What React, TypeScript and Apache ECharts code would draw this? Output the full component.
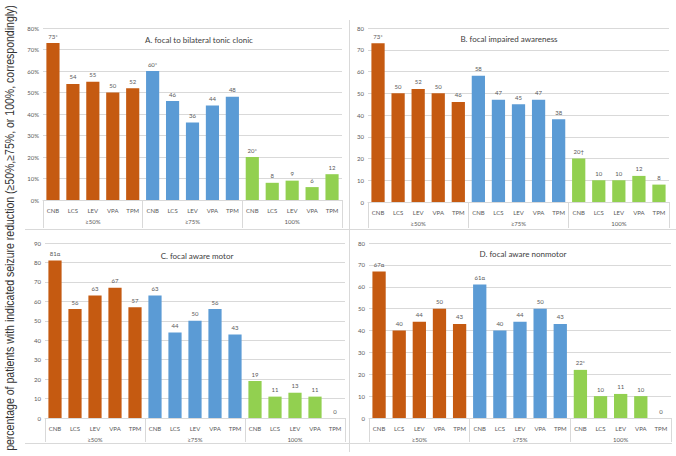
import { useEffect, useRef } from "react"
import * as echarts from "echarts"

const categories = ["CNB", "LCS", "LEV", "VPA", "TPM"]
const groups = ["≥50%", "≥75%", "100%"]
const groupColors = ["#C55A11", "#5B9BD5", "#92D050"]

// values per panel: ≥50%, ≥75%, 100% (5 drugs each)
const panelA = [73, 54, 55, 50, 52, 60, 46, 36, 44, 48, 20, 8, 9, 6, 12]
const panelB = [73, 50, 52, 50, 46, 58, 47, 45, 47, 38, 20, 10, 10, 12, 8]
const panelC = [81, 56, 63, 67, 57, 63, 44, 50, 56, 43, 19, 11, 13, 11, 0]
const panelD = [67, 40, 44, 50, 43, 61, 40, 44, 50, 43, 22, 10, 11, 10, 0]

// significance marks appended to value labels
const marksA = ["*", "", "", "", "", "*", "", "", "", "", "*", "", "", "", ""]
const marksB = ["*", "", "", "", "", "", "", "", "", "", "†", "", "", "", ""]
const marksC = ["α", "", "", "", "", "", "", "", "", "", "", "", "", "", ""]
const marksD = ["α", "", "", "", "", "α", "", "", "", "", "*", "", "", "", ""]

const titles = [
  "A. focal to bilateral tonic clonic",
  "B. focal impaired awareness",
  "C. focal aware motor",
  "D. focal aware nonmotor",
]
const yMax = [80, 80, 90, 80]
const yPercent = [true, false, false, false]

const yTitle =
  "percentage of patients with indicated seizure reduction (≥50%,≥75%, or 100%, correspondingly)"

const FONT = "Lato, 'Open Sans', sans-serif"
const Y_FONT = "'Liberation Sans', Arial, sans-serif"
const GRID_COLOR = "#D9D9D9"
const LABEL_COLOR = "#595959"

export default function App() {
  const chartRef = useRef<HTMLDivElement>(null)

  useEffect(() => {
    document.body.style.margin = "0"
    if (!chartRef.current) return
    const chart = echarts.init(chartRef.current, null, { renderer: "svg" })

    const values = [panelA, panelB, panelC, panelD]
    const marks = [marksA, marksB, marksC, marksD]
    const cats15 = groups.flatMap(() => categories)

    // squeeze the long y title so it spans the page height like the reference
    const ctx = document.createElement("canvas").getContext("2d")
    let yScale = 0.8
    if (ctx) {
      ctx.font = `12px ${Y_FONT}`
      const w = ctx.measureText(yTitle).width
      if (w > 0) yScale = 446 / w
    }

    const grids = [
      { left: 43, top: 28, width: 299, height: 172 },
      { left: 368, top: 28, width: 301, height: 174 },
      { left: 45, top: 243, width: 300, height: 175 },
      { left: 369, top: 243, width: 302, height: 175 },
    ]
    const groupTick = [28, 26, 24, 24]
    const titlePos = [
      [199, 40],
      [509, 39],
      [197, 256],
      [523, 254],
    ]

    const xAxis: any[] = []
    grids.forEach((_, i) => {
      xAxis.push({
        type: "category",
        gridIndex: i,
        data: cats15,
        axisLine: { lineStyle: { color: GRID_COLOR } },
        axisTick: { show: false },
        axisLabel: { fontSize: 6, color: LABEL_COLOR, fontFamily: FONT, margin: 7, interval: 0 },
      })
      xAxis.push({
        type: "category",
        gridIndex: i,
        data: groups,
        position: "bottom",
        axisLine: { show: false },
        axisTick: { show: true, length: groupTick[i], lineStyle: { color: GRID_COLOR } },
        axisLabel: { fontSize: 6, color: LABEL_COLOR, fontFamily: FONT, margin: 18 },
      })
    })

    const yAxis = grids.map((_, i) => ({
      type: "value",
      gridIndex: i,
      min: 0,
      max: yMax[i],
      interval: 10,
      axisLine: { show: false },
      axisTick: { show: false },
      splitLine: { lineStyle: { color: GRID_COLOR } },
      axisLabel: {
        fontSize: 6,
        color: LABEL_COLOR,
        fontFamily: FONT,
        margin: 4,
        formatter: yPercent[i] ? "{value}%" : "{value}",
      },
    }))

    const series = values.map((vals, i) => ({
      type: "bar",
      xAxisIndex: i * 2,
      yAxisIndex: i,
      barCategoryGap: "34%",
      data: vals.map((v, j) => ({
        value: v,
        itemStyle: { color: groupColors[Math.floor(j / 5)] },
      })),
      label: {
        show: true,
        position: "top",
        distance: 4,
        fontSize: 6,
        color: LABEL_COLOR,
        fontFamily: FONT,
        formatter: (p: any) => `${p.value}${marks[i][p.dataIndex]}`,
      },
    }))

    const graphic: any[] = [
      {
        type: "line",
        shape: { x1: 25, y1: 229.5, x2: 676, y2: 229.5 },
        style: { stroke: GRID_COLOR, lineWidth: 1 },
      },
      {
        type: "line",
        shape: { x1: 25, y1: 443.5, x2: 672, y2: 443.5 },
        style: { stroke: GRID_COLOR, lineWidth: 1 },
      },
      {
        type: "line",
        shape: { x1: 349.5, y1: 20, x2: 349.5, y2: 452 },
        style: { stroke: GRID_COLOR, lineWidth: 1 },
      },
      {
        type: "text",
        x: 10,
        y: 228,
        rotation: Math.PI / 2,
        scaleX: yScale,
        style: {
          text: yTitle,
          fontSize: 12,
          fontFamily: Y_FONT,
          fill: "#333333",
          align: "center",
          verticalAlign: "middle",
        },
      },
      ...titles.map((t, i) => ({
        type: "text",
        x: titlePos[i][0],
        y: titlePos[i][1],
        style: {
          text: t,
          fontSize: 8,
          fontFamily: FONT,
          fill: "#404040",
          align: "center",
          verticalAlign: "middle",
        },
      })),
    ]

    chart.setOption({
      animation: false,
      grid: grids,
      xAxis,
      yAxis,
      series,
      graphic,
    })

    return () => chart.dispose()
  }, [])

  return <div ref={chartRef} style={{ width: 676, height: 456 }} />
}
